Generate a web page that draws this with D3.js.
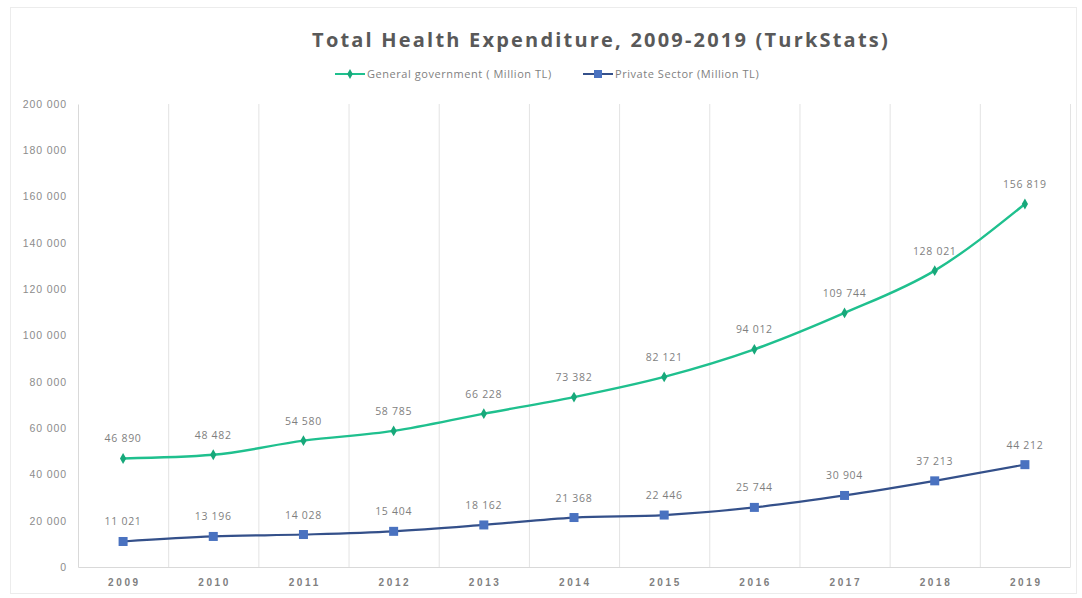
<!DOCTYPE html>
<html>
<head>
<meta charset="utf-8">
<script src="https://cdn.jsdelivr.net/npm/d3@7"></script>
<style>
  html, body { margin: 0; padding: 0; background: #fff; }
  svg { display: block; font-family: "Open Sans", "Noto Sans", sans-serif; }
</style>
</head>
<body>
<svg id="chart" width="1082" height="598"></svg>
<script>
// Health expenditure by financing sector, million TL
const years = ["2009", "2010", "2011", "2012", "2013", "2014", "2015", "2016", "2017", "2018", "2019"];
const generalGovernment = [46890, 48482, 54580, 58785, 66228, 73382, 82121, 94012, 109744, 128021, 156819];
const privateSector = [11021, 13196, 14028, 15404, 18162, 21368, 22446, 25744, 30904, 37213, 44212];
const yTicks = [0, 20000, 40000, 60000, 80000, 100000, 120000, 140000, 160000, 180000, 200000];
const seriesNames = ["General government ( Million TL)", "Private Sector (Million TL)"];

const W = 1082, H = 598;
const margin = { left: 78, right: 12, top: 104, bottom: 31 };
const svg = d3.select("#chart");

// space as thousands separator
const fmt = d3.formatLocale({ decimal: ",", thousands: " ", grouping: [3], currency: ["", ""] }).format(",d");

// faint outer frame
svg.append("rect")
  .attr("x", 10.5).attr("y", 7.5).attr("width", W - 16).attr("height", H - 12)
  .attr("fill", "none").attr("stroke", "#ececec");

const x = d3.scaleBand().domain(years).range([margin.left, W - margin.right]);
const y = d3.scaleLinear().domain([0, 200000]).range([H - margin.bottom, margin.top]);
const cx = d => x(d) + x.bandwidth() / 2;

// vertical category separators
svg.append("g").selectAll("line")
  .data(years.slice(1).concat(["end"]))
  .join("line")
  .attr("x1", (d, i) => margin.left + x.bandwidth() * (i + 1) + 0.5)
  .attr("x2", (d, i) => margin.left + x.bandwidth() * (i + 1) + 0.5)
  .attr("y1", y(200000)).attr("y2", y(0))
  .attr("stroke", "#e3e3e3");

// y axis
const yAxis = svg.append("g")
  .attr("transform", `translate(${margin.left},0)`)
  .call(d3.axisLeft(y).tickValues(yTicks).tickFormat(fmt).tickSize(0).tickPadding(11));
yAxis.select(".domain").attr("stroke", "#d9d9d9");
yAxis.selectAll("text").attr("fill", "#8c8c8c").attr("font-size", "10.5px").attr("letter-spacing", "0.9px");

// x axis
const xAxis = svg.append("g")
  .attr("transform", `translate(0,${y(0)})`)
  .call(d3.axisBottom(x).tickSize(0).tickPadding(12));
xAxis.select(".domain").attr("stroke", "#d9d9d9");
xAxis.selectAll("text")
  .attr("fill", "#808080").attr("font-size", "10px")
  .attr("font-weight", "bold").attr("letter-spacing", "2.6px")
  .attr("dx", "1.3px");

const line = d3.line().x((d, i) => cx(years[i])).y(d => y(d)).curve(d3.curveMonotoneX);

// general government series
const green = "#1fc08e";
svg.append("path").datum(generalGovernment)
  .attr("d", line).attr("fill", "none").attr("stroke", green).attr("stroke-width", 2.4);
svg.append("g").selectAll("path")
  .data(generalGovernment).join("path")
  .attr("d", d3.symbol(d3.symbolDiamond, 34))
  .attr("transform", (d, i) => `translate(${cx(years[i])},${y(d)})`)
  .attr("fill", "#17a87a");

// private sector series
const blueLine = "#34508a", blueMark = "#4a72c0";
svg.append("path").datum(privateSector)
  .attr("d", line).attr("fill", "none").attr("stroke", blueLine).attr("stroke-width", 2.2);
svg.append("g").selectAll("rect")
  .data(privateSector).join("rect")
  .attr("x", (d, i) => cx(years[i]) - 4.5).attr("y", d => y(d) - 4.5)
  .attr("width", 9).attr("height", 9)
  .attr("fill", blueMark);

// value labels
[generalGovernment, privateSector].forEach(vals => {
  svg.append("g").selectAll("text")
    .data(vals).join("text")
    .attr("x", (d, i) => cx(years[i]))
    .attr("y", d => y(d) - 16)
    .attr("text-anchor", "middle")
    .attr("font-size", "10.5px").attr("letter-spacing", "0.7px").attr("fill", "#7f7f7f")
    .text(d => fmt(d));
});

// title
svg.append("text")
  .attr("x", 601).attr("y", 47)
  .attr("text-anchor", "middle")
  .attr("font-size", "20px").attr("font-weight", "bold")
  .attr("letter-spacing", "2.2px")
  .attr("fill", "#595959")
  .text("Total Health Expenditure, 2009-2019 (TurkStats)");

// legend
const legend = svg.append("g").attr("transform", "translate(0,74)");
const legendItems = [
  { name: seriesNames[0], x0: 335, color: green, mark: "diamond" },
  { name: seriesNames[1], x0: 583, color: blueLine, mark: "square" }
];
legendItems.forEach(it => {
  legend.append("line").attr("x1", it.x0).attr("x2", it.x0 + 30).attr("y1", 0).attr("y2", 0)
    .attr("stroke", it.color).attr("stroke-width", 2);
  if (it.mark === "diamond") {
    legend.append("path").attr("d", d3.symbol(d3.symbolDiamond, 28))
      .attr("transform", `translate(${it.x0 + 15},0)`).attr("fill", "#17a87a");
  } else {
    legend.append("rect").attr("x", it.x0 + 11).attr("y", -4).attr("width", 8).attr("height", 8)
      .attr("fill", blueMark);
  }
  legend.append("text").attr("x", it.x0 + 32).attr("y", 3.5)
    .attr("font-size", "11px").attr("letter-spacing", "0.55px").attr("fill", "#7f7f7f")
    .text(it.name);
});
</script>
</body>
</html>
